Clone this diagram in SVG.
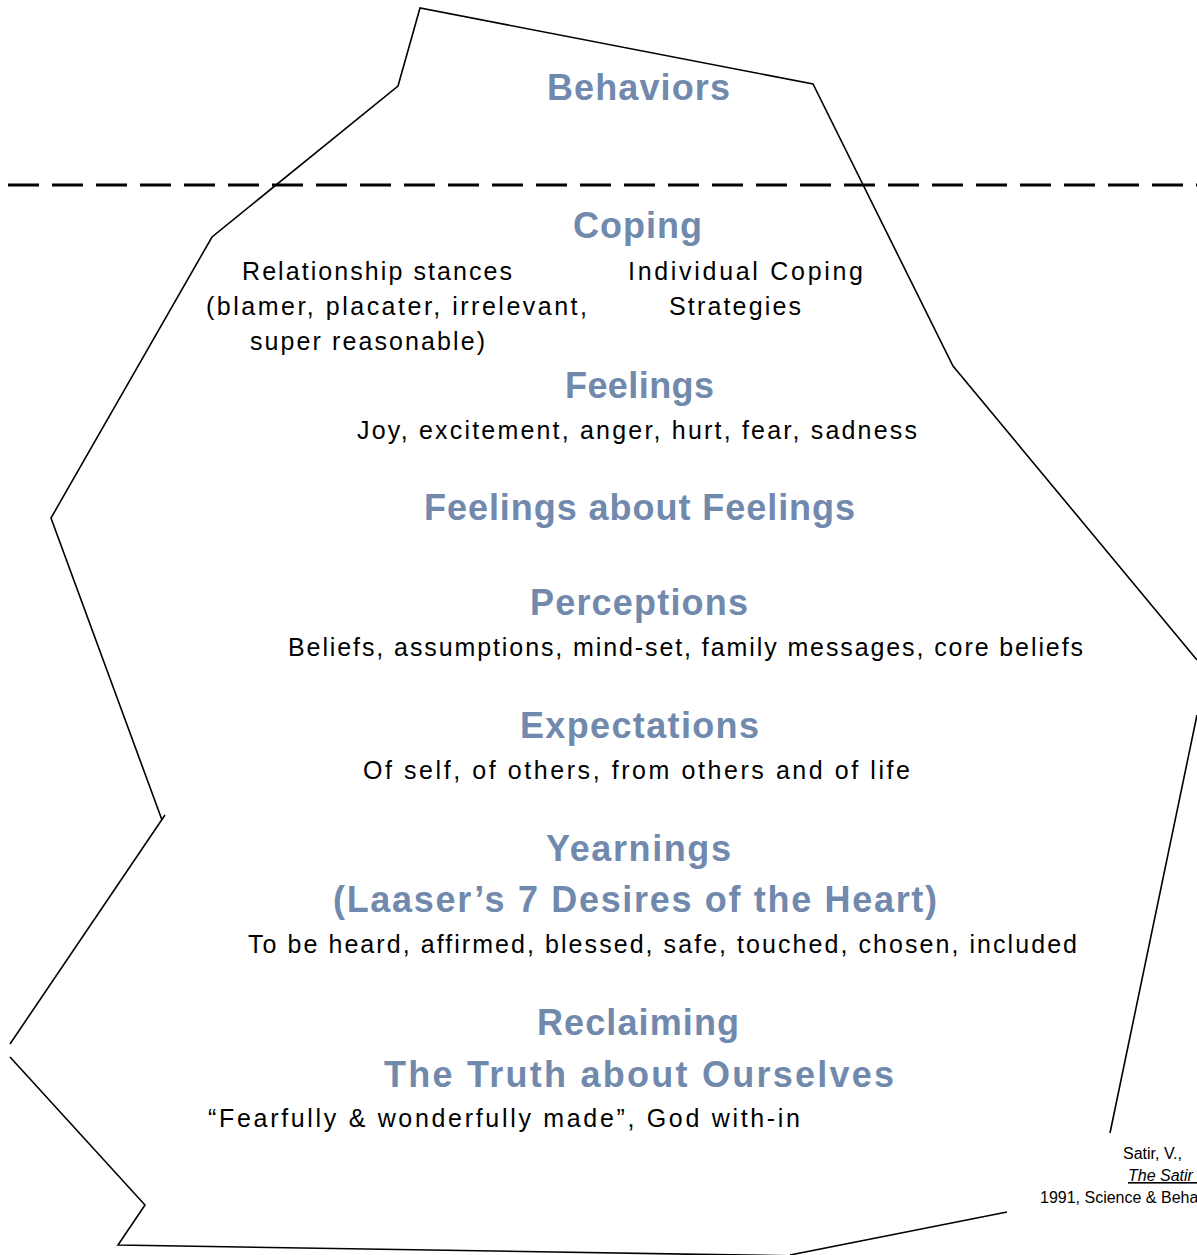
<svg xmlns="http://www.w3.org/2000/svg" width="1197" height="1255" viewBox="0 0 1197 1255">
<style>
.h{font-family:"Liberation Sans",Arial,sans-serif;font-weight:bold;font-size:36px;fill:#7089ad}
.b{font-family:"Liberation Sans",Arial,sans-serif;font-size:25px;fill:#000}
.c{font-family:"Liberation Sans",Arial,sans-serif;font-size:16px;fill:#000}
.o{fill:none;stroke:#000;stroke-width:1.6;stroke-linejoin:miter}
</style>
<rect width="1197" height="1255" fill="#fff"/>
<g id="outline">
<path class="o" d="M10,1044 L165,815"/>
<path class="o" d="M162,820 L51,518 L212,237 L398,86 L420,8 L813,84 L953,366 L1197,660"/>
<path class="o" d="M1197,715 L1110,1133"/>
<path class="o" d="M1007,1212 L790,1255"/>
<path class="o" d="M10,1057 L145,1205 L118,1245 L800,1256"/>
</g>
<g id="waterline">
<line x1="8" y1="185" x2="1197" y2="185" stroke="#000" stroke-width="3" stroke-dasharray="31 13"/>
</g>
<g id="behaviors"><text class="h" x="547" y="100" textLength="183" lengthAdjust="spacing">Behaviors</text></g>
<g id="coping">
<text class="h" x="573" y="238" textLength="129" lengthAdjust="spacing">Coping</text>
<text class="b" x="242" y="280" textLength="270" lengthAdjust="spacing">Relationship stances</text>
<text class="b" x="206" y="315" textLength="381" lengthAdjust="spacing">(blamer, placater, irrelevant,</text>
<text class="b" x="250" y="350" textLength="235" lengthAdjust="spacing">super reasonable)</text>
<text class="b" x="628" y="280" textLength="235" lengthAdjust="spacing">Individual Coping</text>
<text class="b" x="669" y="315" textLength="132" lengthAdjust="spacing">Strategies</text>
</g>
<g id="feelings">
<text class="h" x="565" y="398" textLength="149" lengthAdjust="spacing">Feelings</text>
<text class="b" x="357" y="439" textLength="560" lengthAdjust="spacing">Joy, excitement, anger, hurt, fear, sadness</text>
</g>
<g id="feelings-about-feelings">
<text class="h" x="424" y="520" textLength="431" lengthAdjust="spacing">Feelings about Feelings</text>
</g>
<g id="perceptions">
<text class="h" x="530" y="615" textLength="218" lengthAdjust="spacing">Perceptions</text>
<text class="b" x="288" y="656" textLength="795" lengthAdjust="spacing">Beliefs, assumptions, mind-set, family messages, core beliefs</text>
</g>
<g id="expectations">
<text class="h" x="520" y="738" textLength="239" lengthAdjust="spacing">Expectations</text>
<text class="b" x="363" y="779" textLength="547" lengthAdjust="spacing">Of self, of others, from others and of life</text>
</g>
<g id="yearnings">
<text class="h" x="546" y="861" textLength="185" lengthAdjust="spacing">Yearnings</text>
<text class="h" x="333" y="912" textLength="604" lengthAdjust="spacing">(Laaser’s 7 Desires of the Heart)</text>
<text class="b" x="248" y="953" textLength="829" lengthAdjust="spacing">To be heard, affirmed, blessed, safe, touched, chosen, included</text>
</g>
<g id="reclaiming">
<text class="h" x="537" y="1035" textLength="202" lengthAdjust="spacing">Reclaiming</text>
<text class="h" x="384" y="1087" textLength="510" lengthAdjust="spacing">The Truth about Ourselves</text>
<text class="b" x="208" y="1127" textLength="592" lengthAdjust="spacing">“Fearfully &amp; wonderfully made”, God with-in</text>
</g>
<g id="citation">
<text class="c" x="1123" y="1159">Satir, V.,</text>
<text class="c" x="1128" y="1181" font-style="italic" text-decoration="underline">The Satir Model</text>
<text class="c" x="1040" y="1203">1991, Science &amp; Behavior Books</text>
</g>
</svg>
